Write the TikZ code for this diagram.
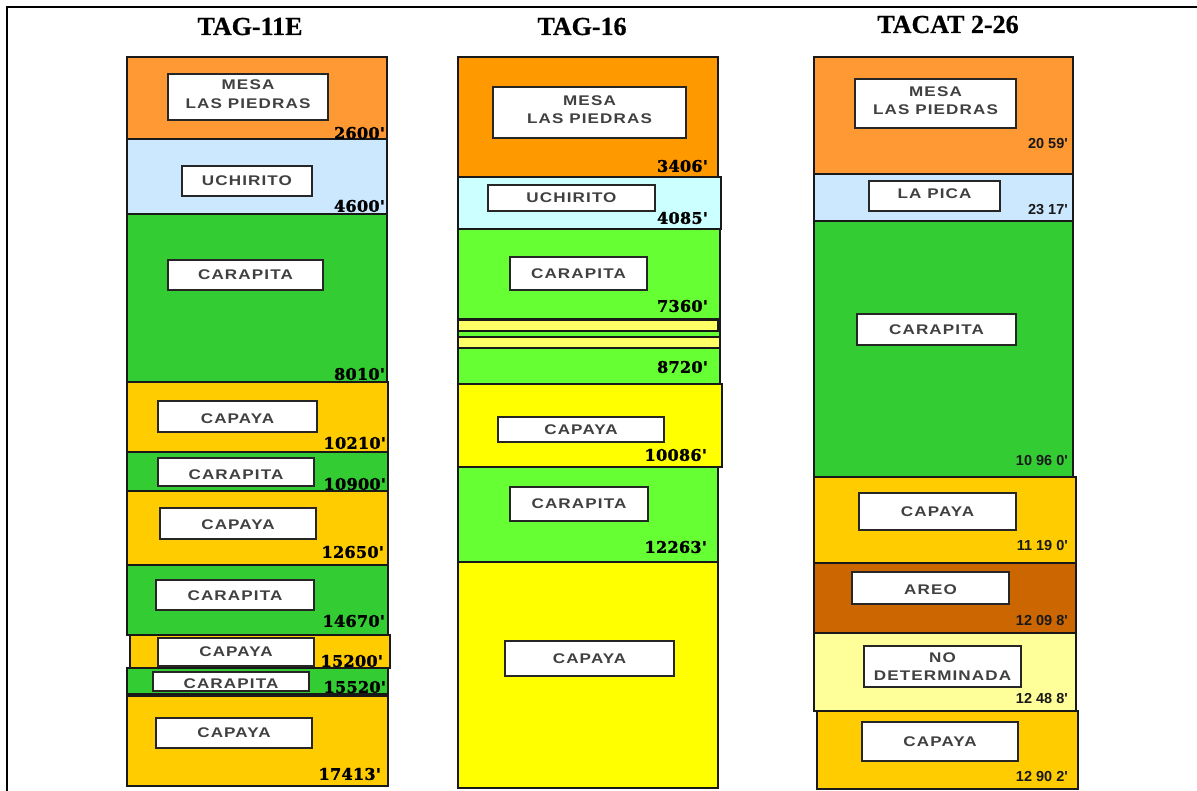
\documentclass[tikz,border=0pt]{standalone}
\usepackage{fontspec}
\usetikzlibrary{fit}

\newfontfamily\headfont{Liberation Serif}[FakeBold=0.6]
\newfontfamily\depthfont{DejaVu Serif}[FakeBold=1.6, LetterSpace=2]
\newfontfamily\boxfont{Liberation Sans}[FakeStretch=1.22, LetterSpace=8]
\newfontfamily\numfont{Liberation Sans}
\newcommand\tick{\char"27\relax}

\definecolor{mesaA}{HTML}{FF9933}
\definecolor{mesaB}{HTML}{FF9900}
\definecolor{uchA}{HTML}{CCE8FF}
\definecolor{uchB}{HTML}{CCFFFF}
\definecolor{carA}{HTML}{33CC33}
\definecolor{carB}{HTML}{66FF33}
\definecolor{capA}{HTML}{FFCC00}
\definecolor{capB}{HTML}{FFFF00}
\definecolor{stripY}{HTML}{FFFF66}
\definecolor{areoC}{HTML}{CC6600}
\definecolor{nodetC}{HTML}{FFFF99}

\tikzset{
  stratum/.style={draw=black!90, line width=1.3pt, inner sep=0pt},
  namebox/.style={draw=black!85, fill=white, line width=1.5pt, inner sep=0pt},
  nametext/.style={font=\boxfont\bfseries\fontsize{14}{18.5}\selectfont,
    text=black!75, align=center, inner sep=0pt},
  depthserif/.style={font=\depthfont\bfseries\fontsize{16}{18}\selectfont,
    anchor=east, inner sep=0pt},
  depthsans/.style={font=\numfont\bfseries\fontsize{14.5}{16}\selectfont,
    text=black!90, anchor=east, inner sep=0pt},
  welltitle/.style={font=\headfont\bfseries\fontsize{26}{30}\selectfont,
    anchor=base, inner sep=0pt},
  frameline/.style={line width=2.2pt, draw=black}
}

% a layer of a well column: name, x1, y1, x2, y2, colour
\newcommand\stratum[6]{\node[stratum, fill=#6, fit={(#2,#3) (#4,#5)}] (#1) {};}
% the white formation label: name, x1, y1, x2, y2, text, vertical shift
\newcommand\namebox[7]{%
  \node[namebox, fit={(#2,#3) (#4,#5)}] (#1) {};
  \node[nametext, yshift=#7] (#1-t) at (#1.center) {#6};}

\begin{document}
\begin{tikzpicture}[x=1pt, y=-1pt]
\useasboundingbox (0,0) rectangle (1197,791);

% outer frame (top and left sides)
\coordinate (frTR) at (1197,7);
\coordinate (frTL) at (7,7);
\coordinate (frBL) at (7,791);
\draw[frameline] (frTR) -- (frTL) -- (frBL);

% well names
\node[welltitle] (t1) at (250,35) {TAG-11E};
\node[welltitle] (t2) at (582,35) {TAG-16};
\node[welltitle] (t3) at (948,33) {TACAT 2-26};

% ---------- TAG-11E ----------
\stratum{a1}{127}{57}{387}{139}{mesaA}
\stratum{a2}{127}{139}{387}{214}{uchA}
\stratum{a3}{127}{214}{387}{382}{carA}
\stratum{a4}{127}{382}{388}{452}{capA}
\stratum{a5}{127}{452}{388}{491}{carA}
\stratum{a6}{127}{491}{388}{565}{capA}
\stratum{a7}{127}{565}{388}{635}{carA}
\stratum{a8}{130}{635}{390}{668}{capA}
\stratum{a9}{127}{668}{388}{694}{carA}
\stratum{a10}{127}{696}{388}{786}{capA}

\namebox{ab1}{168}{74}{328}{120}{MESA\\LAS PIEDRAS}{3pt}
\namebox{ab2}{182}{166}{312}{196}{UCHIRITO}{0pt}
\namebox{ab3}{168}{260}{323}{290}{CARAPITA}{0pt}
\namebox{ab4}{158}{401}{317}{432}{CAPAYA}{-2pt}
\namebox{ab5}{158}{458}{314}{486}{CARAPITA}{-3pt}
\namebox{ab6}{160}{508}{316}{539}{CAPAYA}{-1pt}
\namebox{ab7}{156}{580}{314}{610}{CARAPITA}{-1pt}
\namebox{ab8}{158}{638}{314}{666}{CAPAYA}{0pt}
\namebox{ab9}{153}{672}{309}{691}{CARAPITA}{-2pt}
\namebox{ab10}{156}{718}{312}{748}{CAPAYA}{0pt}

\node[depthserif] (ad1) at (385,133) {2600\tick};
\node[depthserif] (ad2) at (385,206) {4600\tick};
\node[depthserif] (ad3) at (385,374) {8010\tick};
\node[depthserif] (ad4) at (386,443) {10210\tick};
\node[depthserif] (ad5) at (386,484) {10900\tick};
\node[depthserif] (ad6) at (384,552) {12650\tick};
\node[depthserif] (ad7) at (385,621) {14670\tick};
\node[depthserif] (ad8) at (383,661) {15200\tick};
\node[depthserif] (ad9) at (386,687) {15520\tick};
\node[depthserif] (ad10) at (381,774) {17413\tick};

% ---------- TAG-16 ----------
\stratum{b1}{458}{57}{718}{177}{mesaB}
\stratum{b2}{458}{177}{721}{229}{uchB}
\stratum{b3}{458}{229}{720}{319}{carB}
\stratum{b4}{458}{319}{720}{384}{carB}
\stratum{b4s1}{458}{320}{718}{331}{stripY}
\stratum{b4s2}{458}{337}{720}{348}{stripY}
\stratum{b5}{458}{384}{722}{467}{capB}
\stratum{b6}{458}{467}{718}{562}{carB}
\stratum{b7}{458}{562}{718}{788}{capB}

\namebox{bb1}{493}{87}{686}{138}{MESA\\LAS PIEDRAS}{3pt}
\namebox{bb2}{488}{185}{655}{211}{UCHIRITO}{0pt}
\namebox{bb3}{510}{257}{647}{290}{CARAPITA}{0pt}
\namebox{bb5}{498}{417}{664}{442}{CAPAYA}{0pt}
\namebox{bb6}{510}{487}{648}{521}{CARAPITA}{0pt}
\namebox{bb7}{505}{641}{674}{676}{CAPAYA}{0pt}

\node[depthserif] (bd1) at (708,166) {3406\tick};
\node[depthserif] (bd2) at (708,218) {4085\tick};
\node[depthserif] (bd3) at (708,306) {7360\tick};
\node[depthserif] (bd4) at (708,367) {8720\tick};
\node[depthserif] (bd5) at (707,455) {10086\tick};
\node[depthserif] (bd6) at (707,547) {12263\tick};

% ---------- TACAT 2-26 ----------
\stratum{c1}{814}{57}{1073}{174}{mesaA}
\stratum{c2}{814}{174}{1073}{221}{uchA}
\stratum{c3}{814}{221}{1073}{477}{carA}
\stratum{c4}{814}{477}{1076}{563}{capA}
\stratum{c5}{814}{563}{1076}{633}{areoC}
\stratum{c6}{814}{633}{1076}{711}{nodetC}
\stratum{c7}{817}{711}{1078}{789}{capA}

\namebox{cb1}{855}{79}{1016}{128}{MESA\\LAS PIEDRAS}{3pt}
\namebox{cb2}{869}{181}{1000}{211}{LA PICA}{2pt}
\namebox{cb3}{857}{314}{1016}{345}{CARAPITA}{0pt}
\namebox{cb4}{859}{493}{1016}{530}{CAPAYA}{0pt}
\namebox{cb5}{852}{572}{1009}{604}{AREO}{-2pt}
\namebox{cb6}{864}{646}{1021}{687}{NO\\DETERMINADA}{0pt}
\namebox{cb7}{862}{722}{1018}{761}{CAPAYA}{0pt}

\node[depthsans] (cd1) at (1068,144) {20 59\tick};
\node[depthsans] (cd2) at (1068,210) {23 17\tick};
\node[depthsans] (cd3) at (1068,461) {10 96 0\tick};
\node[depthsans] (cd4) at (1068,546) {11 19 0\tick};
\node[depthsans] (cd5) at (1068,621) {12 09 8\tick};
\node[depthsans] (cd6) at (1068,699) {12 48 8\tick};
\node[depthsans] (cd7) at (1068,777) {12 90 2\tick};
\end{tikzpicture}
\end{document}
